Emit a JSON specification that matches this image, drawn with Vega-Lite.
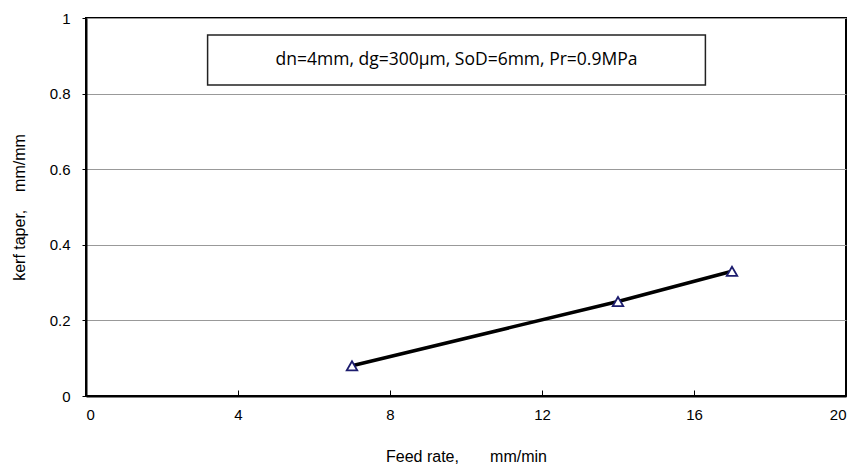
{
  "$schema": "https://vega.github.io/schema/vega-lite/v6.json",
  "width": 760,
  "height": 378,
  "autosize": {"type": "none"},
  "padding": {"left": 86, "top": 18, "right": 13, "bottom": 80},
  "background": "white",
  "config": {
    "view": {"stroke": "black", "strokeWidth": 2},
    "font": "Liberation Sans"
  },
  "datasets": {
    "pts": [
      {"feed": 7, "taper": 0.08},
      {"feed": 14, "taper": 0.25},
      {"feed": 17, "taper": 0.33}
    ],
    "box": [
      {"x1": 3.2, "x2": 16.3, "y1": 0.823, "y2": 0.955, "xm": 9.75, "ym": 0.889, "label": "dn=4mm, dg=300µm, SoD=6mm, Pr=0.9MPa"}
    ]
  },
  "layer": [
    {
      "data": {"name": "pts"},
      "mark": {"type": "line", "color": "black", "strokeWidth": 3.5},
      "encoding": {
        "x": {
          "field": "feed", "type": "quantitative",
          "scale": {"domain": [0, 20], "nice": false, "zero": false},
          "axis": {
            "title": "Feed rate,\u00a0\u00a0\u00a0\u00a0\u00a0\u00a0\u00a0mm/min",
            "titleFont": "Liberation Sans",
            "titleFontSize": 16, "titleFontWeight": "normal", "titleColor": "black",
            "titlePadding": 26,
            "values": [0, 4, 8, 12, 16, 20],
            "labelFont": "Liberation Sans", "labelFontSize": 15, "labelColor": "black",
            "labelPadding": 17,
            "tickColor": "black", "tickSize": -6, "tickWidth": 1,
            "domainColor": "black", "domainWidth": 2,
            "grid": false
          }
        },
        "y": {
          "field": "taper", "type": "quantitative",
          "scale": {"domain": [0, 1], "nice": false},
          "axis": {
            "title": "kerf taper,\u00a0\u00a0\u00a0\u00a0mm/mm",
            "titleFont": "Liberation Sans",
            "titleFontSize": 16, "titleFontWeight": "normal", "titleColor": "black",
            "titlePadding": 22,
            "values": [0, 0.2, 0.4, 0.6, 0.8, 1],
            "labelExpr": "datum.value == 0 ? '0' : datum.value == 1 ? '1' : format(datum.value, '.1f')",
            "labelFont": "Liberation Sans", "labelFontSize": 15, "labelColor": "black",
            "labelPadding": 12,
            "tickColor": "black", "tickSize": 4, "tickWidth": 1,
            "domainColor": "black", "domainWidth": 2,
            "grid": true, "gridColor": "#999999", "gridWidth": 1
          }
        }
      }
    },
    {
      "data": {"name": "pts"},
      "mark": {"type": "point", "shape": "triangle-up", "filled": false, "fill": "white", "stroke": "#1c1c6e", "strokeWidth": 1.8, "size": 110, "opacity": 1},
      "encoding": {
        "x": {"field": "feed", "type": "quantitative"},
        "y": {"field": "taper", "type": "quantitative"}
      }
    },
    {
      "data": {"name": "box"},
      "mark": {"type": "rect", "fill": "white", "stroke": "#222222", "strokeWidth": 1.5},
      "encoding": {
        "x": {"field": "x1", "type": "quantitative"},
        "x2": {"field": "x2"},
        "y": {"field": "y1", "type": "quantitative"},
        "y2": {"field": "y2"}
      }
    },
    {
      "data": {"name": "box"},
      "mark": {"type": "text", "font": "Open Sans", "fontSize": 17.5, "color": "black", "align": "center", "baseline": "middle"},
      "encoding": {
        "x": {"field": "xm", "type": "quantitative"},
        "y": {"field": "ym", "type": "quantitative"},
        "text": {"field": "label"}
      }
    }
  ]
}
